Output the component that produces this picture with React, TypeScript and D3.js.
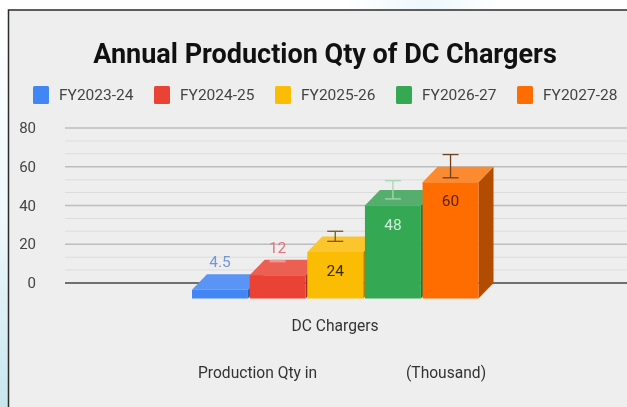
import React from "react";
import * as d3 from "d3";

const seriesNames = ["FY2023-24", "FY2024-25", "FY2025-26", "FY2026-27", "FY2027-28"];
const values = [4.5, 12, 24, 48, 60];
const errorLow = [4.5, 15, 25.5, 47.4, 58.3];
const errorHigh = [4.5, 15.5, 30.7, 56.8, 70.3];
const frontColors = ["#4285f4", "#ea4335", "#fbbc04", "#34a853", "#ff6d01"];
const topColors = ["#5a95f5", "#ec5f53", "#fcc52d", "#55ae6e", "#fb8a30"];
const sideColors = ["#2e5daa", "#a42f25", "#b08303", "#24753a", "#b24c01"];
const labelColors = ["#7296d8", "#e4727c", "#3a2c05", "#cdeed6", "#5a2200"];
const errorColors = ["none", "#f09a94", "#7a5a10", "#a5d8b2", "#6d4020"];
const axisTicks = [0, 20, 40, 60, 80];
const minorTicks = [6.7, 13.3, 26.7, 33.3, 46.7, 53.3, 66.7, 73.3];

const W = 627;
const H = 407;
const FONT = "Roboto, sans-serif";
const DX = 15;
const DY = 15.5;

export default function App() {
  const y = d3.scaleLinear().domain([0, 80]).range([283, 128]);
  const x = d3.scaleBand<number>().domain(d3.range(values.length)).range([192, 478.5]).paddingInner(0.03);
  const bw = x.bandwidth();
  const errY = (v: number) => y(v) + DY / 2;

  return (
    <svg
      width={W}
      height={H}
      viewBox={`0 0 ${W} ${H}`}
      style={{ position: "absolute", left: 0, top: 0, filter: "blur(0.55px)" }}
    >
      <defs>
        <linearGradient id="bgL" x1="0" y1="0" x2="0" y2="1">
          <stop offset="0" stopColor="#ffffff" />
          <stop offset="0.55" stopColor="#eef8fb" />
          <stop offset="1" stopColor="#c8e5ee" />
        </linearGradient>
        <linearGradient id="bgT" x1="0" y1="0" x2="1" y2="0">
          <stop offset="0" stopColor="#ffffff" />
          <stop offset="0.55" stopColor="#ffffff" />
          <stop offset="0.68" stopColor="#eef7fb" />
          <stop offset="0.8" stopColor="#ffffff" />
          <stop offset="1" stopColor="#ffffff" />
        </linearGradient>
      </defs>
      <rect width={W} height={H} fill="url(#bgL)" />
      <rect width={W} height={10} fill="url(#bgT)" />
      <rect x={8.5} y={10} width={W} height={H} fill="#eeeeee" stroke="#2b2b2b" strokeWidth={1.5} />

      <text x={325} y={63} textAnchor="middle" fontFamily={FONT} fontWeight={700} fontSize={27} fill="#111">
        Annual Production Qty of DC Chargers
      </text>

      {seriesNames.map((s, i) => (
        <g key={s}>
          <rect x={33 + i * 121} y={86} width={16} height={18} rx={1.5} fill={frontColors[i]} />
          <text x={59 + i * 121} y={100} fontFamily={FONT} fontSize={15.5} fill="#444">
            {s}
          </text>
        </g>
      ))}

      {minorTicks.map((t) => (
        <line key={t} x1={65} x2={W} y1={y(t)} y2={y(t)} stroke="#dcdcdc" strokeWidth={1.2} />
      ))}
      {axisTicks.map((t) => (
        <g key={t}>
          <line
            x1={65}
            x2={W}
            y1={y(t)}
            y2={y(t)}
            stroke={t === 0 ? "#444444" : "#bdbdbd"}
            strokeWidth={1.3}
          />
          <text x={36} y={y(t) + 5} textAnchor="end" fontFamily={FONT} fontSize={15} fill="#444">
            {t}
          </text>
        </g>
      ))}

      {values.map((v, i) => {
        const x0 = x(i)!;
        const x1 = x0 + bw;
        const top = y(v) + DY;
        const base = y(0) + DY;
        return (
          <g key={i}>
            <path d={`M${x1},${top}L${x1 + DX},${top - DY}L${x1 + DX},${base - DY}L${x1},${base}Z`} fill={sideColors[i]} />
            <path d={`M${x0},${top}L${x0 + DX},${top - DY}L${x1 + DX},${top - DY}L${x1},${top}Z`} fill={topColors[i]} />
            <rect x={x0} y={top} width={bw} height={base - top} fill={frontColors[i]} />
          </g>
        );
      })}

      {values.map((v, i) => {
        if (errorColors[i] === "none") return null;
        const cx = x(i)! + bw / 2;
        const c = errorColors[i];
        return (
          <g key={i} stroke={c} strokeWidth={1.3} fill="none">
            <line x1={cx} x2={cx} y1={errY(errorLow[i])} y2={errY(errorHigh[i])} />
            <line x1={cx - 8} x2={cx + 8} y1={errY(errorLow[i])} y2={errY(errorLow[i])} />
            <line x1={cx - 8} x2={cx + 8} y1={errY(errorHigh[i])} y2={errY(errorHigh[i])} />
          </g>
        );
      })}

      {values.map((v, i) => {
        const cx = x(i)! + bw / 2;
        const ly = v < 20 ? y(v) - 7 : y(v) + DY + 24;
        return (
          <text key={i} x={cx} y={ly} textAnchor="middle" fontFamily={FONT} fontSize={15.5} fill={labelColors[i]}>
            {v}
          </text>
        );
      })}

      <text x={335} y={331} textAnchor="middle" fontFamily={FONT} fontSize={15.6} fill="#333">
        DC Chargers
      </text>
      <text x={198} y={378} fontFamily={FONT} fontSize={15.6} fill="#333">
        Production Qty in
      </text>
      <text x={406} y={378} fontFamily={FONT} fontSize={15.6} fill="#333">
        (Thousand)
      </text>
    </svg>
  );
}
